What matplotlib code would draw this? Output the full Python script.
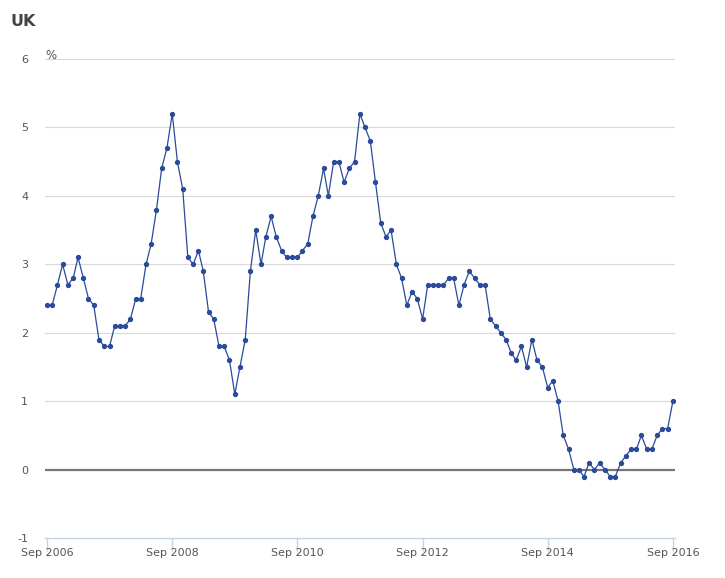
import numpy as np
import pandas as pd
import matplotlib
matplotlib.use("Agg")
import matplotlib.pyplot as plt
import matplotlib.dates as mdates

# UK CPI annual rate, monthly Sep 2006 - Sep 2016
months = pd.date_range("2006-09-01", "2016-09-01", freq="MS")
cpi = [
    2.4, 2.4, 2.7, 3.0,
    2.7, 2.8, 3.1, 2.8, 2.5, 2.4, 1.9, 1.8, 1.8, 2.1, 2.1, 2.1,
    2.2, 2.5, 2.5, 3.0, 3.3, 3.8, 4.4, 4.7, 5.2, 4.5, 4.1, 3.1,
    3.0, 3.2, 2.9, 2.3, 2.2, 1.8, 1.8, 1.6, 1.1, 1.5, 1.9, 2.9,
    3.5, 3.0, 3.4, 3.7, 3.4, 3.2, 3.1, 3.1, 3.1, 3.2, 3.3, 3.7,
    4.0, 4.4, 4.0, 4.5, 4.5, 4.2, 4.4, 4.5, 5.2, 5.0, 4.8, 4.2,
    3.6, 3.4, 3.5, 3.0, 2.8, 2.4, 2.6, 2.5, 2.2, 2.7, 2.7, 2.7,
    2.7, 2.8, 2.8, 2.4, 2.7, 2.9, 2.8, 2.7, 2.7, 2.2, 2.1, 2.0,
    1.9, 1.7, 1.6, 1.8, 1.5, 1.9, 1.6, 1.5, 1.2, 1.3, 1.0, 0.5,
    0.3, 0.0, 0.0, -0.1, 0.1, 0.0, 0.1, 0.0, -0.1, -0.1, 0.1, 0.2,
    0.3, 0.3, 0.5, 0.3, 0.3, 0.5, 0.6, 0.6, 1.0,
]
tick_dates = pd.date_range("2006-09-01", "2016-09-01", freq="24MS")
tick_labels = ["Sep 2006", "Sep 2008", "Sep 2010", "Sep 2012", "Sep 2014", "Sep 2016"]
y_ticks = [-1, 0, 1, 2, 3, 4, 5, 6]

fig = plt.figure(figsize=(7.25, 5.78), dpi=100)
ax = fig.add_axes([0.062, 0.069, 0.869, 0.829])

ax.plot(months, cpi, color="#2b4a9a", lw=0.9, marker="o", ms=2.8, zorder=3)

ax.set_ylim(-1, 6)
pad = pd.Timedelta(days=12)
ax.set_xlim(months[0] - pad, months[-1] + pad)
ax.set_yticks(y_ticks)
ax.set_yticklabels([str(v) for v in y_ticks])
ax.set_xticks(tick_dates)
ax.set_xticklabels(tick_labels)

for v in y_ticks[2:]:
    ax.axhline(v, color="#d9d9d9", lw=0.8, zorder=1)
ax.axhline(0, color="#777777", lw=1.6, zorder=2)

for s in ["top", "right", "left"]:
    ax.spines[s].set_visible(False)
ax.spines["bottom"].set_color("#c5d3e2")
ax.spines["bottom"].set_linewidth(1.0)

ax.tick_params(axis="y", length=0, pad=12, labelsize=8, labelcolor="#555555")
ax.tick_params(axis="x", length=9, width=1.0, color="#c5d3e2", pad=-2,
               labelsize=8, labelcolor="#555555")

ax.text(0.0, 5.96, "%", transform=ax.get_yaxis_transform(), fontsize=8.5,
        color="#555555", ha="left", va="bottom")
fig.text(0.014, 0.962, "UK", fontsize=11.5, fontweight="bold", color="#444444",
         ha="left", va="center")

fig.savefig("out.png", dpi=100)
